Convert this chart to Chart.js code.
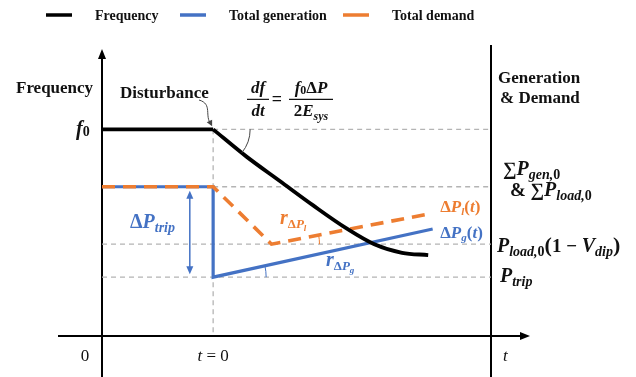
<!DOCTYPE html>
<html>
<head>
<meta charset="utf-8">
<script src="https://cdn.jsdelivr.net/npm/chart.js@4.4.1/dist/chart.umd.min.js"></script>
<style>
  html, body { margin: 0; padding: 0; background: #fff; }
</style>
</head>
<body>
<canvas id="freqChart" width="636" height="377"></canvas>
<script>
// time runs from -2 to 5, the disturbance happens at t = 0
const tSteady = [-2, 0];
const freqSteady = [72, 72];
const tFreq = [0, 0.6, 1.2, 1.8, 2.4, 2.9, 3.4, 3.87];
const freqAfter = [72, 62.5, 54, 45.5, 37.5, 32, 29, 28.2];
const tGen = [-2, 0, 0, 3.95];
const genValues = [52, 52, 20.5, 37.3];
const tDem = [-2, 0, 1.05, 3.87];
const demValues = [52, 52, 32, 42.5];
// f0, sum of P0, P_load,0(1 - V_dip), P_trip
const levelValues = [72, 52, 32, 20.5];
const levelStart = [0, 0, -2, -2];
const tMin = -2, tMax = 5;

const BLUE = '#4472C4';
const ORANGE = '#ED7D31';
const GRID = '#b4b4b4';
const SERIF = '"Liberation Serif", "Times New Roman", serif';
const bold = n => `bold ${n}px ${SERIF}`;
const ital = n => `italic bold ${n}px ${SERIF}`;
const plain = n => `${n}px ${SERIF}`;
const italPlain = n => `italic ${n}px ${SERIF}`;

const pts = (xs, ys) => xs.map((x, i) => ({ x: x, y: ys[i] }));

const guides = levelValues.map((v, i) => ({
  data: [{ x: levelStart[i], y: v }, { x: tMax, y: v }],
  borderColor: GRID, borderWidth: 1.3, borderDash: [5, 4], order: 5
}));
guides.push({
  data: [{ x: 0, y: levelValues[0] }, { x: 0, y: 0 }],
  borderColor: GRID, borderWidth: 1.3, borderDash: [5, 4], order: 5
});

// draws a run of [text, font, dy] pieces on one baseline
function rich(ctx, runs, x, y, align) {
  let w = 0;
  runs.forEach(r => { ctx.font = r[1]; w += ctx.measureText(r[0]).width; });
  let cx = align === 'center' ? x - w / 2 : (align === 'right' ? x - w : x);
  runs.forEach(r => {
    ctx.font = r[1];
    ctx.fillText(r[0], cx, y + (r[2] || 0));
    cx += ctx.measureText(r[0]).width;
  });
  return w;
}

function arrowHead(ctx, x, y, ang, len, half) {
  ctx.beginPath();
  ctx.moveTo(x, y);
  ctx.lineTo(x - len * Math.cos(ang) + half * Math.sin(ang), y - len * Math.sin(ang) - half * Math.cos(ang));
  ctx.lineTo(x - len * Math.cos(ang) - half * Math.sin(ang), y - len * Math.sin(ang) + half * Math.cos(ang));
  ctx.closePath();
  ctx.fill();
}

const diagram = {
  id: 'diagram',
  beforeDatasetsDraw(chart) {
    const ctx = chart.ctx, xs = chart.scales.x, ys = chart.scales.y;
    const x0 = xs.getPixelForValue(tMin), x1 = xs.getPixelForValue(tMax);
    const yb = ys.getPixelForValue(0), yt = ys.getPixelForValue(100);
    ctx.save();
    ctx.strokeStyle = '#000';
    ctx.fillStyle = '#000';
    ctx.lineWidth = 2;
    // left (frequency) axis
    ctx.beginPath(); ctx.moveTo(x0, chart.height); ctx.lineTo(x0, yt + 8); ctx.stroke();
    arrowHead(ctx, x0, yt, -Math.PI / 2, 10, 4);
    // right (power) axis
    ctx.beginPath(); ctx.moveTo(x1, chart.height); ctx.lineTo(x1, yt - 4); ctx.stroke();
    // time axis
    ctx.beginPath(); ctx.moveTo(x0 - 44, yb); ctx.lineTo(x1 + 30, yb); ctx.stroke();
    arrowHead(ctx, x1 + 39, yb, 0, 10, 4);
    ctx.restore();
  },
  afterDatasetsDraw(chart) {
    const ctx = chart.ctx, xs = chart.scales.x, ys = chart.scales.y;
    const px = v => xs.getPixelForValue(v), py = v => ys.getPixelForValue(v);
    ctx.save();
    ctx.textBaseline = 'alphabetic';

    // legend
    const items = chart.data.datasets.filter(d => d.label);
    const slots = [46, 180, 343];
    items.forEach((d, i) => {
      ctx.strokeStyle = d.borderColor;
      ctx.lineWidth = 3.5;
      ctx.setLineDash([]);
      ctx.beginPath(); ctx.moveTo(slots[i], 15); ctx.lineTo(slots[i] + 26, 15); ctx.stroke();
      ctx.fillStyle = '#111';
      ctx.font = bold(14);
      ctx.fillText(d.label, slots[i] + 49, 20);
    });

    // axis titles
    ctx.fillStyle = '#111';
    ctx.font = bold(17);
    ctx.fillText('Frequency', 16, 93);
    ctx.fillText('Disturbance', 120, 98);
    ctx.fillText('Generation', px(tMax) + 7, 83);
    ctx.fillText('& Demand', px(tMax) + 9, 103);

    // time axis labels
    ctx.font = plain(17);
    ctx.textAlign = 'center';
    ctx.fillText('0', px(tMin) - 17, 361);
    ctx.textAlign = 'left';
    rich(ctx, [['t', italPlain(17)], [' = 0', plain(17)]], px(0), 361, 'center');
    rich(ctx, [['t', italPlain(17)]], px(tMax) + 12, 361, 'left');

    // f0 on the frequency axis
    rich(ctx, [['f', ital(20)], ['0', bold(14), 1]], px(tMin) - 26, py(levelValues[0]) + 6, 'left');

    // df/dt equation
    const eqY = py(levelValues[0]) - 30;
    ctx.strokeStyle = '#111'; ctx.lineWidth = 1.2;
    rich(ctx, [['df', ital(17)]], 258, eqY - 6, 'center');
    rich(ctx, [['dt', ital(17)]], 258, eqY + 17, 'center');
    ctx.beginPath(); ctx.moveTo(247, eqY); ctx.lineTo(269, eqY); ctx.stroke();
    rich(ctx, [['=', bold(18)]], 277, eqY + 6, 'center');
    rich(ctx, [['f', ital(17)], ['0', bold(12), 1], ['\u0394', bold(17)], ['P', ital(17)]], 311, eqY - 6, 'center');
    rich(ctx, [['2', bold(17)], ['E', ital(17)], ['sys', ital(12), 4]], 311, eqY + 17, 'center');
    ctx.beginPath(); ctx.moveTo(289, eqY); ctx.lineTo(333, eqY); ctx.stroke();

    // slope arcs at the three corners
    const arc = (cx, cy, r, a0, a1, col) => {
      ctx.strokeStyle = col; ctx.lineWidth = 1; ctx.setLineDash([]);
      ctx.beginPath(); ctx.arc(cx, cy, r, Math.min(a0, a1), Math.max(a0, a1)); ctx.stroke();
    };
    const fx = px(tFreq[0]), fy = py(freqAfter[0]);
    arc(fx, fy, 37, 0, Math.atan2(py(freqAfter[1]) - fy, px(tFreq[1]) - fx), '#444');
    const dx = px(tDem[2]), dy = py(demValues[2]);
    arc(dx, dy, 48, 0, Math.atan2(py(demValues[3]) - dy, px(tDem[3]) - dx), ORANGE);
    const gx = px(tGen[2]), gy = py(genValues[2]);
    arc(gx, gy, 53, 0, Math.atan2(py(genValues[3]) - gy, px(tGen[3]) - gx), BLUE);

    // disturbance pointer
    ctx.strokeStyle = '#444'; ctx.fillStyle = '#444'; ctx.lineWidth = 1;
    ctx.beginPath(); ctx.moveTo(199, 100);
    ctx.bezierCurveTo(213, 104, 204, 116, fx - 2, fy - 5); ctx.stroke();
    arrowHead(ctx, fx - 1, fy - 3, 1.1, 6, 3);

    // trip step double arrow
    const ax = px(-0.42);
    ctx.strokeStyle = BLUE; ctx.fillStyle = BLUE; ctx.lineWidth = 1.5;
    ctx.beginPath(); ctx.moveTo(ax, py(levelValues[1]) + 8); ctx.lineTo(ax, py(levelValues[3]) - 8); ctx.stroke();
    arrowHead(ctx, ax, py(levelValues[1]) + 4, -Math.PI / 2, 8, 3.5);
    arrowHead(ctx, ax, py(levelValues[3]) - 3, Math.PI / 2, 8, 3.5);
    rich(ctx, [['\u0394', bold(20)], ['P', ital(20)], ['trip', ital(14), 4]], 130, 228, 'left');

    // ramp rate labels
    ctx.fillStyle = ORANGE;
    rich(ctx, [['r', ital(20)], ['\u0394', bold(13), 4], ['P', ital(13), 4], ['l', ital(9), 7]], 280, 224, 'left');
    ctx.fillStyle = BLUE;
    rich(ctx, [['r', ital(20)], ['\u0394', bold(13), 4], ['P', ital(13), 4], ['g', ital(9), 7]], 326, 266, 'left');

    // line end labels
    ctx.fillStyle = ORANGE;
    rich(ctx, [['\u0394', bold(17)], ['P', ital(17)], ['l', ital(11), 3], ['(', bold(17)], ['t', ital(17)], [')', bold(17)]],
      px(tDem[3]) + 12, py(demValues[3]) - 2, 'left');
    ctx.fillStyle = BLUE;
    rich(ctx, [['\u0394', bold(17)], ['P', ital(17)], ['g', ital(11), 3], ['(', bold(17)], ['t', ital(17)], [')', bold(17)]],
      px(tDem[3]) + 12, py(genValues[3]) + 9, 'left');

    // power levels on the right axis
    const rx = px(tMax);
    ctx.fillStyle = '#111';
    rich(ctx, [['\u2211', bold(19)], ['P', ital(20)], ['gen,', ital(14), 4], ['0', bold(14), 4]], rx + 12, 175, 'left');
    rich(ctx, [['& ', bold(19)], ['\u2211', bold(19)], ['P', ital(20)], ['load,', ital(14), 4], ['0', bold(14), 4]], rx + 19, 196, 'left');
    rich(ctx, [['P', ital(20)], ['load,', ital(14), 4], ['0', bold(14), 4], ['(', bold(22)], ['1', bold(19)],
      [' \u2212 ', bold(19)], ['V', ital(20)], ['dip', ital(14), 4], [')', bold(22)]], rx + 6, py(levelValues[2]) + 8, 'left');
    rich(ctx, [['P', ital(20)], ['trip', ital(14), 4]], rx + 9, py(levelValues[3]) + 5, 'left');

    ctx.restore();
  }
};

new Chart(document.getElementById('freqChart').getContext('2d'), {
  type: 'scatter',
  data: {
    datasets: [
      { label: 'Frequency', data: pts(tSteady, freqSteady), borderColor: '#000', borderWidth: 3.8, order: 0 },
      { data: pts(tFreq, freqAfter), borderColor: '#000', borderWidth: 3.8, cubicInterpolationMode: 'monotone', order: 0 },
      { label: 'Total generation', data: pts(tGen, genValues), borderColor: BLUE, borderWidth: 3.2, order: 2 },
      { label: 'Total demand', data: pts(tDem, demValues), borderColor: ORANGE, borderWidth: 3.6, borderDash: [13, 8], order: 1 }
    ].concat(guides).map(d => Object.assign({ showLine: true, pointRadius: 0, clip: false, fill: false }, d))
  },
  options: {
    responsive: false,
    animation: false,
    events: [],
    layout: { padding: { left: 102, right: 145, top: 49, bottom: 41 } },
    scales: {
      x: { type: 'linear', min: tMin, max: tMax, display: false },
      y: { type: 'linear', min: 0, max: 100, display: false }
    },
    plugins: { legend: { display: false }, tooltip: { enabled: false } }
  },
  plugins: [diagram]
});
</script>
</body>
</html>
